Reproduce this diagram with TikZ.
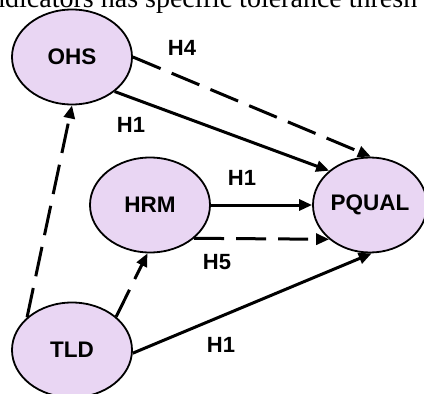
\documentclass[tikz,border=0pt]{standalone}
\usepackage{fontspec}
\setmainfont{Liberation Sans}
\newfontfamily\seriffont{Liberation Serif}
\usetikzlibrary{shapes.geometric,arrows.meta}
\definecolor{nodefill}{RGB}{233,214,243}
\begin{document}
\begin{tikzpicture}[x=1pt,y=-1pt,
  var/.style={ellipse, draw=black, line width=1.8pt, fill=nodefill, minimum width=120pt, minimum height=95pt, inner sep=0pt, font=\fontsize{22.5}{22.5}\selectfont\bfseries},
  lab/.style={font=\fontsize{22}{22}\selectfont\bfseries, inner sep=0pt},
  conn/.style={line width=3pt, -{Triangle[length=13pt,width=11pt]}},
  dsh/.style={dash pattern=on 30pt off 12pt}
]
\useasboundingbox (0,0) rectangle (424,394);
\fill[white] (0,0) rectangle (424,394);
\clip (0,0) rectangle (424,394);
\node[anchor=base west, inner sep=0pt, font=\seriffont\fontsize{28}{28}\selectfont] (toptext) at (-9,7) {ndicators has specific tolerance thresh};
\node[var] (ohs) at (72,57) {OHS};
\node[var] (hrm) at (150,205) {HRM};
\node[var, minimum width=114pt] (pq) at (370,205) {PQUAL};
\node[var] (tld) at (72,350) {TLD};
\draw[conn,dsh] (ohs.0) -- (pq.89);
\draw[conn] (ohs.-39) -- (pq.140);
\draw[conn] (hrm.0) -- (pq.180);
\draw[conn,dsh] (hrm.-37) -- (pq.220);
\draw[conn,dsh] (tld.144) -- (ohs.-90);
\draw[conn,dsh] (tld.37) -- (hrm.-93);
\draw[conn] (tld.-3) -- (pq.-88);
\node[lab] (l4) at (182,48) {H4};
\node[lab] (l1a) at (131,125) {H1};
\node[lab] (l1b) at (242,178) {H1};
\node[lab] (l5) at (217,262) {H5};
\node[lab] (l1c) at (221,345) {H1};
\end{tikzpicture}
\end{document}
